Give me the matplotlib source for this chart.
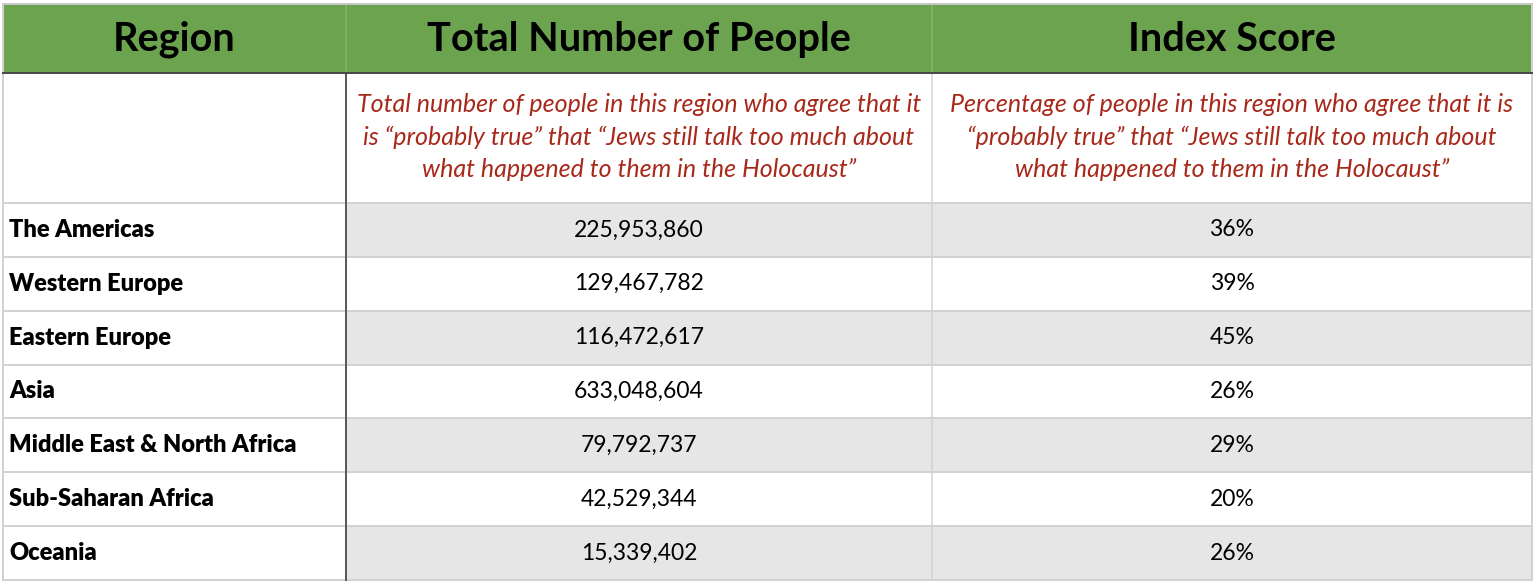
import matplotlib
matplotlib.use("Agg")
import matplotlib.pyplot as plt
from matplotlib.patches import Rectangle

headers = ["Region", "Total Number of People", "Index Score"]
subtitles = ["",
             "Total number of people in this region who agree that it\nis \u201cprobably true\u201d that \u201cJews still talk too much about\nwhat happened to them in the Holocaust\u201d",
             "Percentage of people in this region who agree that it is\n\u201cprobably true\u201d that \u201cJews still talk too much about\nwhat happened to them in the Holocaust\u201d"]
regions = ["The Americas", "Western Europe", "Eastern Europe", "Asia",
           "Middle East & North Africa", "Sub-Saharan Africa", "Oceania"]
people = [225953860, 129467782, 116472617, 633048604, 79792737, 42529344, 15339402]
index_pct = [36, 39, 45, 26, 29, 20, 26]

W, H = 1536, 586
fig = plt.figure(figsize=(W / 100, H / 100), dpi=100)
ax = fig.add_axes([0, 0, 1, 1])
ax.set_xlim(0, W)
ax.set_ylim(H, 0)
ax.axis("off")

FONT = "Lato"
col_x = [3, 346, 932, 1532]
head_top, head_bot = 4, 73
sub_bot = 203
row_h = (580 - sub_bot) / len(regions)
green = "#6ba34f"
gray_fill = "#e6e6e6"
grid = "#d2d2d2"
red = "#a8281a"
px = 0.72

# header background
ax.add_patch(Rectangle((col_x[0], head_top), col_x[-1] - col_x[0], head_bot - head_top,
                       facecolor=green, edgecolor="none", zorder=1))
for i, h in enumerate(headers):
    cx = (col_x[i] + col_x[i + 1]) / 2
    ax.text(cx, (head_top + head_bot) / 2 + 1, h, ha="center", va="center",
            fontsize=28.5, fontweight="bold", family=FONT, color="black", zorder=5)
for x in col_x[1:-1]:
    ax.plot([x, x], [head_top, head_bot], color="#83b56b", lw=1.5 * px, zorder=2)

# subtitle row
for i, s in enumerate(subtitles):
    if s:
        cx = (col_x[i] + col_x[i + 1]) / 2
        ax.text(cx, (head_bot + sub_bot) / 2 - 1, s, ha="center", va="center",
                fontsize=18, style="italic", family=FONT, color=red,
                linespacing=1.47, zorder=5)

# data rows
for r, (reg, p, ix) in enumerate(zip(regions, people, index_pct)):
    y0 = sub_bot + r * row_h
    if r % 2 == 0:
        ax.add_patch(Rectangle((col_x[1], y0), col_x[-1] - col_x[1], row_h,
                               facecolor=gray_fill, edgecolor="none", zorder=1))
    yc = y0 + row_h / 2
    ax.text(col_x[0] + 6, yc, reg, ha="left", va="center", fontsize=17,
            fontweight="heavy", family=FONT, color="black", zorder=5)
    ax.text((col_x[1] + col_x[2]) / 2, yc, f"{p:,}", ha="center", va="center",
            fontsize=16.5, family=FONT, color="black", zorder=5)
    ax.text((col_x[2] + col_x[3]) / 2, yc, f"{ix}%", ha="center", va="center",
            fontsize=16.5, family=FONT, color="black", zorder=5)

# grid lines
bottom = sub_bot + len(regions) * row_h
for k in range(len(regions) + 1):
    y = sub_bot + k * row_h
    ax.plot([col_x[0], col_x[-1]], [y, y], color=grid, lw=2 * px, zorder=3)
ax.plot([col_x[0], col_x[0]], [head_top, bottom], color=grid, lw=2 * px, zorder=3)
ax.plot([col_x[-1], col_x[-1]], [head_top, bottom], color=grid, lw=2 * px, zorder=3)
ax.plot([col_x[2], col_x[2]], [head_bot, bottom], color=grid, lw=1.5 * px, zorder=3)
ax.plot([col_x[0], col_x[-1]], [head_top, head_top], color="#c8c8c8", lw=2 * px, zorder=3)
ax.plot([col_x[1], col_x[1]], [head_bot, bottom], color="#5a5a5a", lw=2 * px, zorder=4)
ax.plot([col_x[0], col_x[-1]], [head_bot, head_bot], color="#4a4a4a", lw=2 * px, zorder=4)

fig.savefig("out.png", dpi=100, facecolor="white")
